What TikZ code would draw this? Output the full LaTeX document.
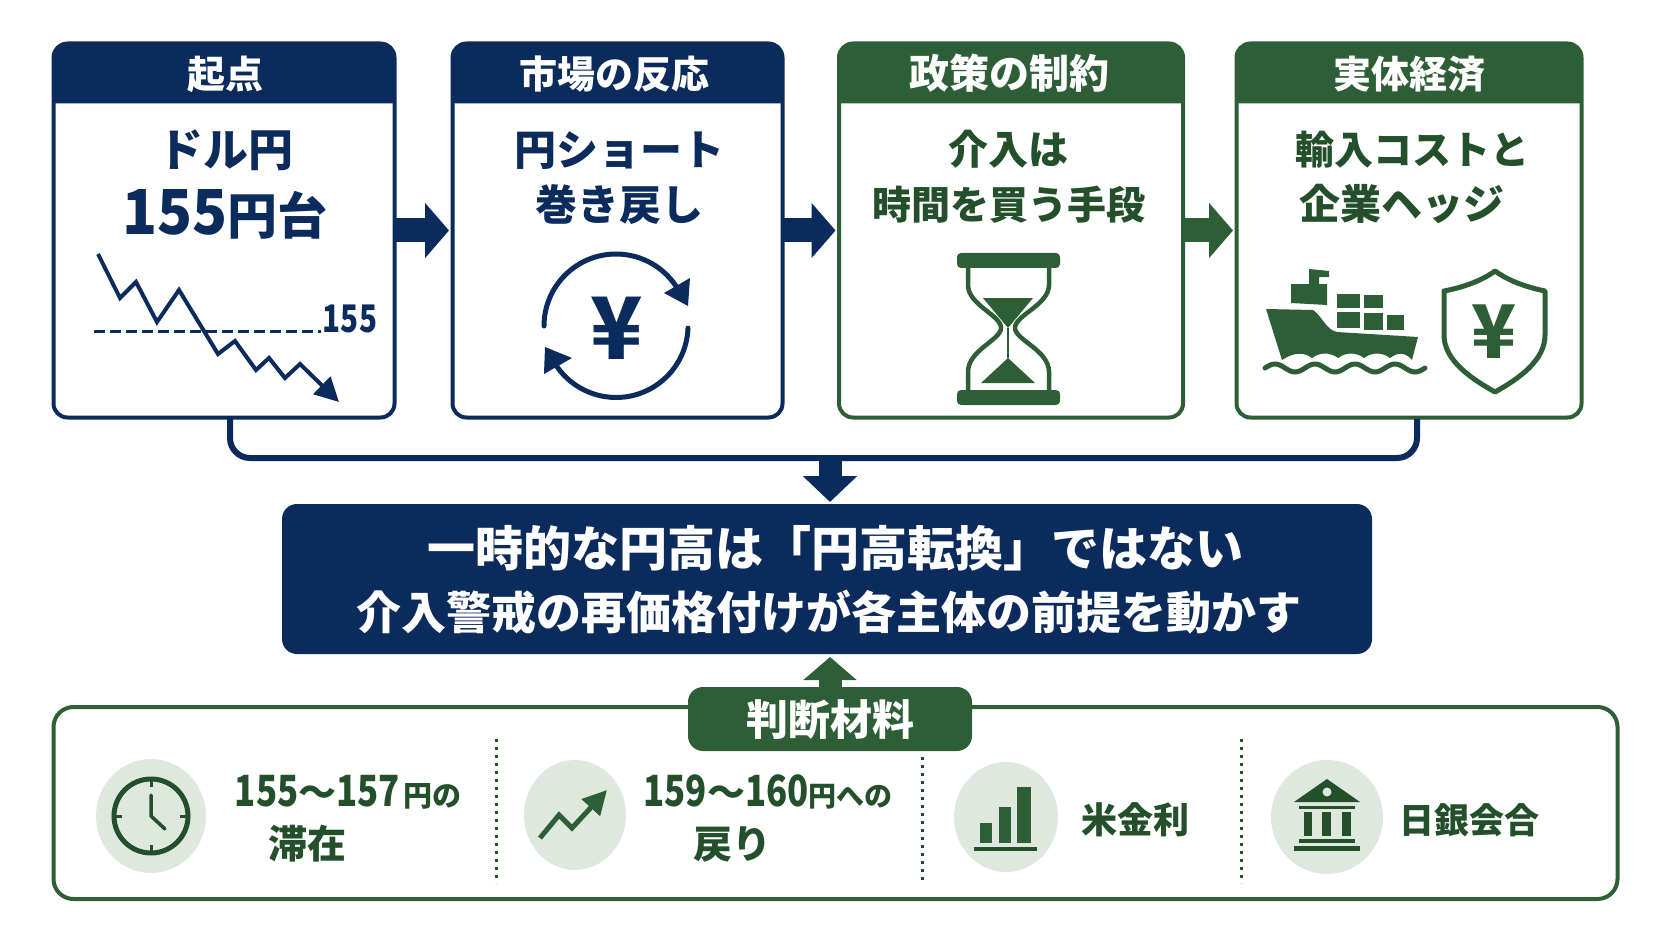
\documentclass[tikz,border=0pt]{standalone}
\usepackage{fontspec}
\setmainfont{Noto Sans CJK JP}
\usetikzlibrary{arrows.meta,shapes.geometric}

\definecolor{navy}{HTML}{0B2B5C}
\definecolor{forest}{HTML}{2E5E36}
\definecolor{deepgreen}{HTML}{234F2B}
\definecolor{pale}{HTML}{DFE8DF}

\newcommand{\pxfont}[1]{\fontsize{#1}{#1}\selectfont}
\newcommand{\cardhead}[4]{%
  \fill[#2] ([yshift=-60pt]#1.north west) [rounded corners=14pt] -- (#1.north west) -- (#1.north east)
    [sharp corners] -- ([yshift=-60pt]#1.north east) -- cycle;
  \node[txt, white, font=\bfseries\pxfont{38}] (#1head) at ([xshift=#3pt, yshift=-45pt]#1.north) {#4};
}

\tikzset{
  card/.style={draw=#1, line width=4pt, rounded corners=14pt, fill=white, outer sep=0pt, inner sep=0pt},
  txt/.style={anchor=base, inner sep=0pt, align=center},
  blockarrow/.style={line width=24pt, -{Triangle[length=24pt, width=54pt]}, shorten >=3.5pt},
  dots/.style={dash pattern=on 3pt off 5pt, line width=3pt, deepgreen},
  badge/.style 2 args={ellipse, fill=pale, inner sep=0pt, minimum width=#1, minimum height=#2},
}

\begin{document}
\begin{tikzpicture}[x=1pt, y=1pt]
  \useasboundingbox (0,0) rectangle (1672,-941);

  % cards
  \node[card=navy, minimum width=341pt, minimum height=374pt] (start) at (224,-230.5) {};
  \node[card=navy, minimum width=330pt, minimum height=374pt] (market) at (617.5,-230.5) {};
  \node[card=forest, minimum width=344pt, minimum height=374pt] (policy) at (1011,-230.5) {};
  \node[card=forest, minimum width=345pt, minimum height=374pt] (economy) at (1409,-230.5) {};

  \cardhead{start}{navy}{1}{起点}
  \cardhead{market}{navy}{-3}{市場の反応}
  \cardhead{policy}{forest}{-2}{{\pxfont{40}政策の制約}}
  \cardhead{economy}{forest}{0}{実体経済}

  \draw[navy, blockarrow] (start.east) -- (market.west);
  \draw[navy, blockarrow] (market.east) -- (policy.west);
  \draw[forest, blockarrow] (policy.east) -- (economy.west);

  % card texts
  \node[txt, navy, font=\bfseries\pxfont{45}] (startline) at (226,-167) {ドル円};
  \node[txt, navy, font=\bfseries\pxfont{50}] (startlevel) at (225,-235) {\scalebox{.93}[1]{\pxfont{62}155}円台};
  \node[txt, navy, font=\bfseries\pxfont{42}] (marketline) at (619,-166) {円ショート};
  \node[txt, navy, font=\bfseries\pxfont{42}] (marketsub) at (619,-221) {巻き戻し};
  \node[txt, deepgreen, font=\bfseries\pxfont{40}] (policyline) at (1008,-165) {介入は};
  \node[txt, deepgreen, font=\bfseries\pxfont{39}] (policysub) at (1009,-220) {時間を買う手段};
  \node[txt, deepgreen, font=\bfseries\pxfont{39}] (economyline) at (1412,-165) {輸入コストと};
  \node[txt, deepgreen, font=\bfseries\pxfont{41}] (economysub) at (1402,-220) {企業ヘッジ};

  % falling chart
  \draw[navy, line width=3pt, dash pattern=on 11pt off 5pt] (94,-331) -- (321,-331);
  \draw[navy, line width=4pt, -{Triangle[length=24pt, width=24pt]}] (98,-254) -- (120,-298) -- (136,-282)
    -- (157,-322) -- (179,-290) -- (218,-354) -- (235,-341) -- (256,-370) -- (269,-358) -- (285,-378) -- (300,-364) -- (339,-402);
  \node[txt, navy, font=\bfseries\pxfont{38}] (chartlabel) at (350,-332) {\scalebox{.78}[1]{155}};

  % yen circle
  \draw[navy, line width=5pt, line cap=round] (544,-326) arc[start angle=180, end angle=30, radius=72];
  \draw[navy, line width=5pt, line cap=round] (688,-328) arc[start angle=-2, end angle=-147, radius=72];
  \fill[navy] (688,-306) -- (664,-293) -- (690,-278) -- cycle;
  \fill[navy] (545,-347) -- (544,-374) -- (572,-358) -- cycle;
  \node[txt, navy, font=\bfseries\pxfont{86}] (marketyen) at (617,-359) {¥};

  % hourglass
  \fill[forest, rounded corners=4pt] (957,-253) rectangle (1060,-268);
  \fill[forest, rounded corners=4pt] (957,-390) rectangle (1060,-405);
  \draw[forest, line width=4.5pt] (968,-268) -- (968,-285) .. controls (968,-305) and (1001,-315) .. (1001,-328)
    .. controls (1001,-340) and (968,-350) .. (968,-372) -- (968,-390);
  \draw[forest, line width=4.5pt] (1049,-268) -- (1049,-285) .. controls (1049,-305) and (1015,-315) .. (1015,-328)
    .. controls (1015,-340) and (1049,-350) .. (1049,-372) -- (1049,-390);
  \fill[forest] (983,-298) -- (1033,-298) -- (1008,-328) -- cycle;
  \fill[forest] (1008,-358) -- (981,-383) -- (1035,-383) -- cycle;
  \draw[forest, line width=2.5pt] (1008,-328) -- (1008,-358);

  % ship
  \fill[forest] (1266,-309) -- (1313,-310) .. controls (1322,-316) and (1326,-330) .. (1337,-332) -- (1418,-337) -- (1412,-360)
    .. controls (1405,-352) and (1398,-352) .. (1390,-358) .. controls (1382,-352) and (1372,-352) .. (1364,-358)
    .. controls (1356,-352) and (1346,-352) .. (1338,-358) .. controls (1330,-352) and (1320,-352) .. (1312,-358)
    .. controls (1304,-352) and (1294,-352) .. (1282,-360) -- cycle;
  \fill[forest] (1291,-284) -- (1309,-284) -- (1309,-269) -- (1329,-271) -- (1329,-277) -- (1319,-277) -- (1319,-284)
    -- (1327,-284) -- (1327,-305) -- (1291,-303) -- cycle;
  \fill[forest] (1337,-294) rectangle (1360,-308);
  \fill[forest] (1364,-295) rectangle (1383,-308);
  \fill[forest] (1337,-312) rectangle (1360,-328);
  \fill[forest] (1364,-313) rectangle (1383,-330);
  \fill[forest] (1387,-315) rectangle (1404,-330);
  \draw[forest, line width=5pt, line cap=round] plot[domain=0:160, samples=80] ({1265+\x}, {-368+4*sin(\x*9)});

  % shield
  \draw[forest, line width=5pt, line join=round] (1495,-271) .. controls (1480,-282) and (1460,-288) .. (1444,-291)
    -- (1444,-335) .. controls (1444,-360) and (1470,-378) .. (1495,-392) .. controls (1520,-378) and (1545,-360) .. (1545,-335)
    -- (1545,-291) .. controls (1530,-288) and (1510,-282) .. (1495,-271) -- cycle;
  \node[txt, forest, font=\bfseries\pxfont{74}] (shieldyen) at (1494,-358) {¥};

  % summary
  \node[fill=navy, rounded corners=15pt, minimum width=1090pt, minimum height=150pt, outer sep=0pt] (summary) at (827,-579) {};
  \node[txt, white, font=\bfseries\pxfont{48}] (summaryline) at (835,-566) {一時的な円高は「円高転換」ではない};
  \node[txt, white, font=\bfseries\pxfont{45}] (summarysub) at (829,-629) {介入警戒の再価格付けが各主体の前提を動かす};

  \coordinate (busleft) at (230,-419);
  \coordinate (busright) at (1417,-419);
  \coordinate (merge) at (830,-458);
  \draw[navy, line width=6pt, rounded corners=20pt] (busleft) -- (busleft |- merge) -- (busright |- merge) -- (busright);
  \draw[navy, line width=23pt, -{Triangle[length=26pt, width=53pt]}, shorten >=2pt] (merge) -- (merge |- summary.north);

  % material panel
  \node[draw=forest, line width=4pt, rounded corners=20pt, minimum width=1564pt, minimum height=192pt, outer sep=0pt] (panel) at (835.5,-803) {};
  \node[fill=forest, rounded corners=15pt, minimum width=284pt, minimum height=64pt, outer sep=0pt] (tab) at (830,-719) {};
  \node[txt, white, font=\bfseries\pxfont{42}] (tablabel) at (830,-735) {判断材料};
  \draw[forest, line width=23pt, -{Triangle[length=23pt, width=52pt]}, shorten >=3pt] (tab.north) -- (tab.north |- summary.south);

  \draw[dots] (496,-739) -- (496,-883);
  \draw[dots] (922,-757) -- (922,-883);
  \draw[dots] (1241,-739) -- (1241,-883);

  \node[badge={110pt}{114pt}] (clockbadge) at (151,-816) {};
  \node[badge={102pt}{110pt}] (trendbadge) at (575,-815) {};
  \node[badge={104pt}{110pt}] (barsbadge) at (1006,-817) {};
  \node[badge={112pt}{114pt}] (bankbadge) at (1327,-817) {};

  % clock
  \draw[deepgreen, line width=5pt] (clockbadge) circle (37);
  \draw[deepgreen, line width=3pt] (151,-779) -- (151,-787) (151,-853) -- (151,-845) (114,-816) -- (122,-816) (188,-816) -- (180,-816);
  \draw[deepgreen, line width=3.5pt, line cap=round] (151,-795) -- (151,-816) -- (165,-829);

  % trend
  \draw[forest, line width=5pt, -{Triangle[length=24pt, width=24pt]}] (540,-838) -- (559,-815) -- (572,-828) -- (607,-790);

  % bars
  \fill[forest] (980,-823) rectangle (992,-843);
  \fill[forest] (999,-807) rectangle (1011,-843);
  \fill[forest] (1017,-787) rectangle (1031,-843);
  \fill[deepgreen] (974,-847) rectangle (1037,-851);

  % bank
  \fill[deepgreen] (1327,-779) -- (1294,-802) -- (1360,-802) -- cycle;
  \fill[pale] (1327,-792) circle (4.5);
  \fill[deepgreen] (1299,-806) rectangle (1355,-809);
  \fill[deepgreen] (1304,-812) rectangle (1312,-836);
  \fill[deepgreen] (1322,-812) rectangle (1331,-836);
  \fill[deepgreen] (1342,-812) rectangle (1351,-836);
  \fill[deepgreen] (1299,-839) rectangle (1355,-843);
  \fill[deepgreen] (1294,-846) rectangle (1360,-851);

  % material texts
  \node[txt, deepgreen, font=\bfseries\pxfont{43}] (stayline) at (348,-806) {\scalebox{.81}[1]{155}{\pxfont{38}～}\scalebox{.81}[1]{157}\hspace{3pt}{\pxfont{29}円の}};
  \node[txt, deepgreen, font=\bfseries\pxfont{39}] (staysub) at (307,-858) {滞在};
  \node[txt, deepgreen, font=\bfseries\pxfont{43}] (backline) at (768,-806) {\scalebox{.81}[1]{159}{\pxfont{38}～}\scalebox{.81}[1]{160}{\pxfont{28}円への}};
  \node[txt, deepgreen, font=\bfseries\pxfont{39}] (backsub) at (732,-858) {戻り};
  \node[txt, deepgreen, font=\bfseries\pxfont{36}] (ratelabel) at (1135,-833) {米金利};
  \node[txt, deepgreen, font=\bfseries\pxfont{35}] (bojlabel) at (1469,-833) {日銀会合};
\end{tikzpicture}
\end{document}
